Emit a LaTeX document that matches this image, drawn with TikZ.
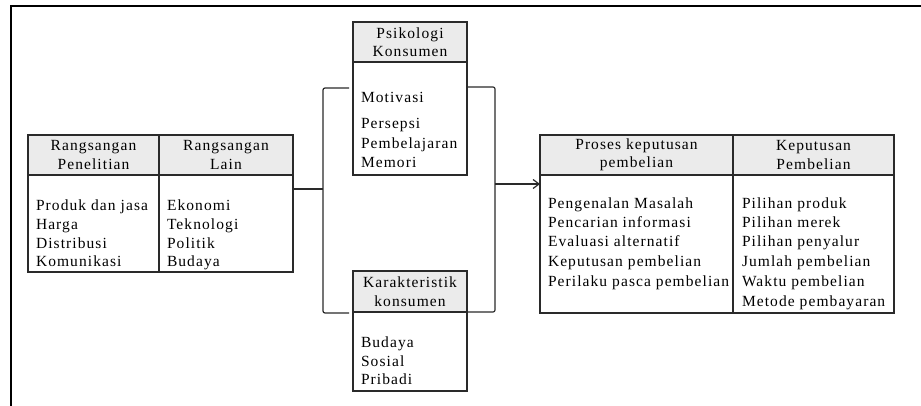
\documentclass[tikz,border=0pt]{standalone}
\usepackage{fontspec}
\setmainfont{Liberation Serif}[LetterSpace=7]
\usetikzlibrary{arrows.meta}
\definecolor{hdrgray}{HTML}{EBEBEB}
\definecolor{ink}{HTML}{2A2A2A}
\begin{document}
\begin{tikzpicture}[x=1pt,y=-1pt,
  box/.style={draw=ink, line width=1.1pt, inner sep=0pt, outer sep=0pt, anchor=north west},
  hdr/.style={box, fill=hdrgray, align=center, font=\fontsize{15.5}{18.5}\selectfont, text=black},
  txt/.style={inner sep=0pt, outer sep=0pt, anchor=base west, font=\fontsize{15.5}{18.5}\selectfont, text=black},
  conn/.style={draw=ink, line width=1.2pt, rounded corners=2pt},
  frameline/.style={draw=black, line width=1.6pt}]
\useasboundingbox (0,0) rectangle (921,406);
% outer frame
\coordinate (fa) at (11,406);
\coordinate (fb) at (11,6);
\coordinate (fc) at (921,6);
\draw[frameline] (fa) -- (fb) -- (fc);
% left table
\node[hdr, minimum width=131, minimum height=40] (lh1) at (28,135) {Rangsangan\\Penelitian};
\node[hdr, minimum width=134, minimum height=40] (lh2) at (159,135) {Rangsangan\\Lain};
\node[box, minimum width=131, minimum height=97] (lb1) at (28,175) {};
\node[box, minimum width=134, minimum height=97] (lb2) at (159,175) {};
\foreach \t/\y [count=\i] in {{Produk dan jasa}/211, Harga/229.5, Distribusi/248, Komunikasi/266.5}
  \node[txt] (la\i) at (36,\y) {\t};
\foreach \t/\y [count=\i] in {Ekonomi/211, Teknologi/229.5, Politik/248, Budaya/266.5}
  \node[txt] (lc\i) at (167,\y) {\t};
% Psikologi Konsumen
\node[hdr, minimum width=114, minimum height=40] (ph) at (353,22) {Psikologi\\Konsumen};
\node[box, minimum width=114, minimum height=113] (pb) at (353,62) {};
\foreach \t/\y [count=\i] in {Motivasi/103, Persepsi/129, Pembelajaran/148.5, Memori/168}
  \node[txt] (pt\i) at (361,\y) {\t};
% Karakteristik konsumen
\node[hdr, minimum width=114, minimum height=41] (kh) at (353,271) {Karakteristik\\konsumen};
\node[box, minimum width=114, minimum height=79] (kb) at (353,312) {};
\foreach \t/\y [count=\i] in {Budaya/347, Sosial/366, Pribadi/384.5}
  \node[txt] (kt\i) at (361,\y) {\t};
% right table
\node[hdr, minimum width=193, minimum height=40] (rh1) at (540,135) {Proses keputusan\\pembelian};
\node[hdr, minimum width=161, minimum height=40] (rh2) at (733,135) {Keputusan\\Pembelian};
\node[box, minimum width=193, minimum height=138] (rb1) at (540,175) {};
\node[box, minimum width=161, minimum height=138] (rb2) at (733,175) {};
\foreach \t/\y [count=\i] in {{Pengenalan Masalah}/209, {Pencarian informasi}/228, {Evaluasi alternatif}/247, {Keputusan pembelian}/266, {Perilaku pasca pembelian}/286}
  \node[txt] (ra\i) at (548,\y) {\t};
\foreach \t/\y [count=\i] in {{Pilihan produk}/209, {Pilihan merek}/228, {Pilihan penyalur}/247, {Jumlah pembelian}/266, {Waktu pembelian}/286, {Metode pembayaran}/306}
  \node[txt] (rc\i) at (742,\y) {\t};
% connectors
\coordinate (blt) at (323,88);
\coordinate (blm) at (323,189);
\coordinate (blb) at (323,313);
\coordinate (brt) at (495,87);
\coordinate (brm) at (495,184);
\coordinate (brb) at (495,312);
\draw[conn] ([xshift=-4pt]pb.west |- blt) -- (blt) -- (blb) -- ([xshift=-4pt]kb.west |- blb);
\draw[conn] (lb2.north east |- blm) -- (blm);
\draw[conn] (pb.east |- brt) -- (brt) -- (brb) -- (kb.east |- brb);
\draw[conn, rounded corners=0pt, -{Straight Barb[length=6pt,width=9pt]}] (brm) -- (rb1.west |- brm);
\end{tikzpicture}
\end{document}
